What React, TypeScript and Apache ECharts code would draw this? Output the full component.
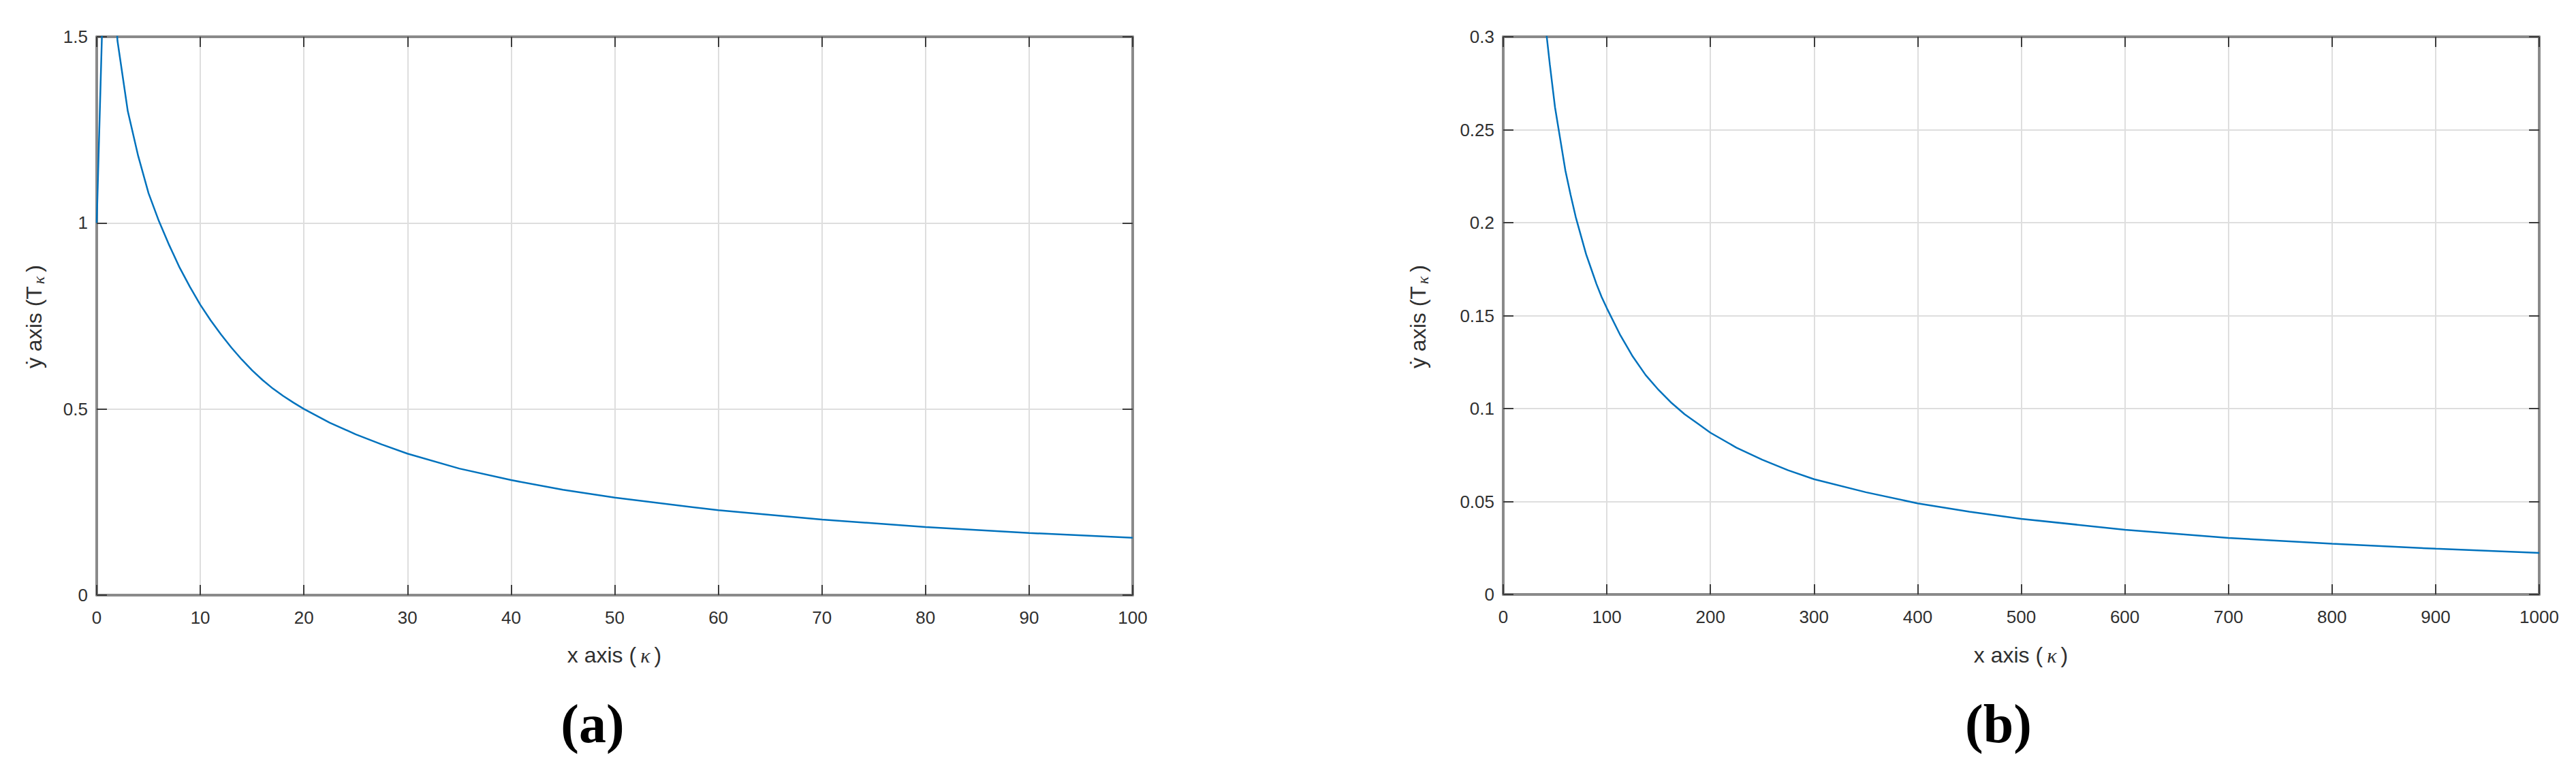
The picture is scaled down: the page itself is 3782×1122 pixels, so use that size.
import React, { useEffect, useRef } from "react";
import * as echarts from "echarts";

// ---- data ----
const leftX = [0, 1, 2, 3, 4, 5, 6, 7, 8, 9, 10, 11, 12, 13, 14, 15, 16, 17, 18, 19, 20, 22.5, 25, 27.5, 30, 35, 40, 45, 50, 60, 70, 80, 90, 100];
const leftY = [1.0, 2.0, 1.49, 1.3, 1.18, 1.08, 1.005, 0.94, 0.88, 0.828, 0.78, 0.738, 0.7, 0.665, 0.633, 0.604, 0.578, 0.555, 0.535, 0.517, 0.5, 0.463, 0.432, 0.405, 0.38, 0.34, 0.309, 0.283, 0.262, 0.228, 0.203, 0.183, 0.167, 0.154];

const rightX = [20, 30, 40, 45, 50, 55, 60, 65, 70, 75, 80, 85, 90, 95, 100, 112.5, 125, 137.5, 150, 162.5, 175, 187.5, 200, 225, 250, 275, 300, 350, 400, 450, 500, 600, 700, 800, 900, 1000];
const rightY = [0.5, 0.38, 0.31, 0.285, 0.262, 0.245, 0.228, 0.215, 0.203, 0.193, 0.183, 0.175, 0.167, 0.16, 0.154, 0.14, 0.128, 0.118, 0.11, 0.103, 0.097, 0.092, 0.087, 0.079, 0.0725, 0.0668, 0.062, 0.055, 0.049, 0.0445, 0.0407, 0.0348, 0.0304, 0.0273, 0.0246, 0.0223];

const leftXRange = [0, 100, 10];
const leftYRange = [0, 1.5, 0.5];
const rightXRange = [0, 1000, 100];
const rightYRange = [0, 0.3, 0.05];

const xTitle = "x axis (";
const yTitle = "ẏ axis (T";
const panelLabels = ["a", "b"];

// ---- styles ----
const axisGray = "#8a8a8a";
const tickDark = "#3c3c3c";
const labelColor = "#303030";
const gridColor = "#dedede";
const lineColor = "#0072BD";
const sans = "'Liberation Sans', Arial, Helvetica, sans-serif";
const serif = "'Liberation Serif', 'Times New Roman', serif";

const fmt = (v: number) => String(Math.round(v * 10000) / 10000);

function xAxis(gridIndex: number, r: number[], position: "bottom" | "top") {
  const main = position === "bottom";
  return {
    type: "value",
    gridIndex,
    position,
    min: r[0],
    max: r[1],
    interval: r[2],
    axisLine: { show: true, onZero: false, lineStyle: { color: axisGray, width: 4 } },
    axisTick: { show: true, inside: true, length: 15, lineStyle: { color: tickDark, width: 2 } },
    axisLabel: { show: main, margin: 20, fontSize: 26, color: labelColor, fontFamily: sans, formatter: fmt },
    splitLine: { show: main, lineStyle: { color: gridColor, width: 2 } },
  };
}

function yAxis(gridIndex: number, r: number[], position: "left" | "right") {
  const main = position === "left";
  return {
    type: "value",
    gridIndex,
    position,
    min: r[0],
    max: r[1],
    interval: r[2],
    axisLine: { show: true, onZero: false, lineStyle: { color: axisGray, width: 4 } },
    axisTick: { show: true, inside: true, length: 15, lineStyle: { color: tickDark, width: 2 } },
    axisLabel: { show: main, margin: 13, fontSize: 26, color: labelColor, fontFamily: sans, formatter: fmt },
    splitLine: { show: main, lineStyle: { color: gridColor, width: 2 } },
  };
}

function xTitleText(cx: number, cy: number) {
  return {
    type: "text",
    x: cx,
    y: cy,
    style: {
      text: `{n|${xTitle}}{k|κ}{n|)}`,
      align: "center",
      verticalAlign: "middle",
      rich: {
        n: { fontSize: 32, fontFamily: sans, fill: labelColor },
        k: { fontSize: 30, fontFamily: serif, fontStyle: "italic", fill: labelColor, padding: [0, 6, 0, 6] },
      },
    },
  };
}

function yTitleText(cx: number, cy: number) {
  return {
    type: "text",
    x: cx,
    y: cy,
    rotation: Math.PI / 2,
    style: {
      text: `{n|${yTitle}}{s|κ}{n|)}`,
      align: "center",
      verticalAlign: "middle",
      rich: {
        n: { fontSize: 32, fontFamily: sans, fill: labelColor },
        s: { fontSize: 24, fontFamily: serif, fontStyle: "italic", fill: labelColor, padding: [14, 6, 0, 3] },
      },
    },
  };
}

function panelText(cx: number, cy: number, letter: string) {
  return {
    type: "text",
    x: cx,
    y: cy,
    style: {
      text: `(${letter})`,
      align: "center",
      verticalAlign: "middle",
      fontSize: 80,
      fontWeight: "bold",
      fontFamily: serif,
      fill: "#000",
    },
  };
}

export default function App() {
  const ref = useRef<HTMLDivElement>(null);

  useEffect(() => {
    if (!ref.current) return;
    const chart = echarts.init(ref.current, undefined, { renderer: "svg" });
    const option = {
      animation: false,
      backgroundColor: "#ffffff",
      grid: [
        { left: 142, top: 54, width: 1521, height: 820 },
        { left: 2207, top: 54, width: 1521, height: 819 },
      ],
      xAxis: [
        xAxis(0, leftXRange, "bottom"),
        xAxis(0, leftXRange, "top"),
        xAxis(1, rightXRange, "bottom"),
        xAxis(1, rightXRange, "top"),
      ],
      yAxis: [
        yAxis(0, leftYRange, "left"),
        yAxis(0, leftYRange, "right"),
        yAxis(1, rightYRange, "left"),
        yAxis(1, rightYRange, "right"),
      ],
      series: [
        {
          type: "line",
          xAxisIndex: 0,
          yAxisIndex: 0,
          data: leftX.map((x, i) => [x, leftY[i]]),
          showSymbol: false,
          symbol: "none",
          clip: true,
          lineStyle: { color: lineColor, width: 2.5 },
          z: 5,
        },
        {
          type: "line",
          xAxisIndex: 2,
          yAxisIndex: 2,
          data: rightX.map((x, i) => [x, rightY[i]]),
          showSymbol: false,
          symbol: "none",
          clip: true,
          lineStyle: { color: lineColor, width: 2.5 },
          z: 5,
        },
      ],
      graphic: [
        xTitleText(902, 962),
        xTitleText(2967, 962),
        yTitleText(50, 465),
        yTitleText(2082, 465),
        panelText(870, 1063, panelLabels[0]),
        panelText(2934, 1063, panelLabels[1]),
      ],
    };
    chart.setOption(option as any);
    return () => chart.dispose();
  }, []);

  return (
    <div
      ref={ref}
      style={{ position: "fixed", left: 0, top: 0, width: "3782px", height: "1122px", background: "#fff" }}
    />
  );
}
